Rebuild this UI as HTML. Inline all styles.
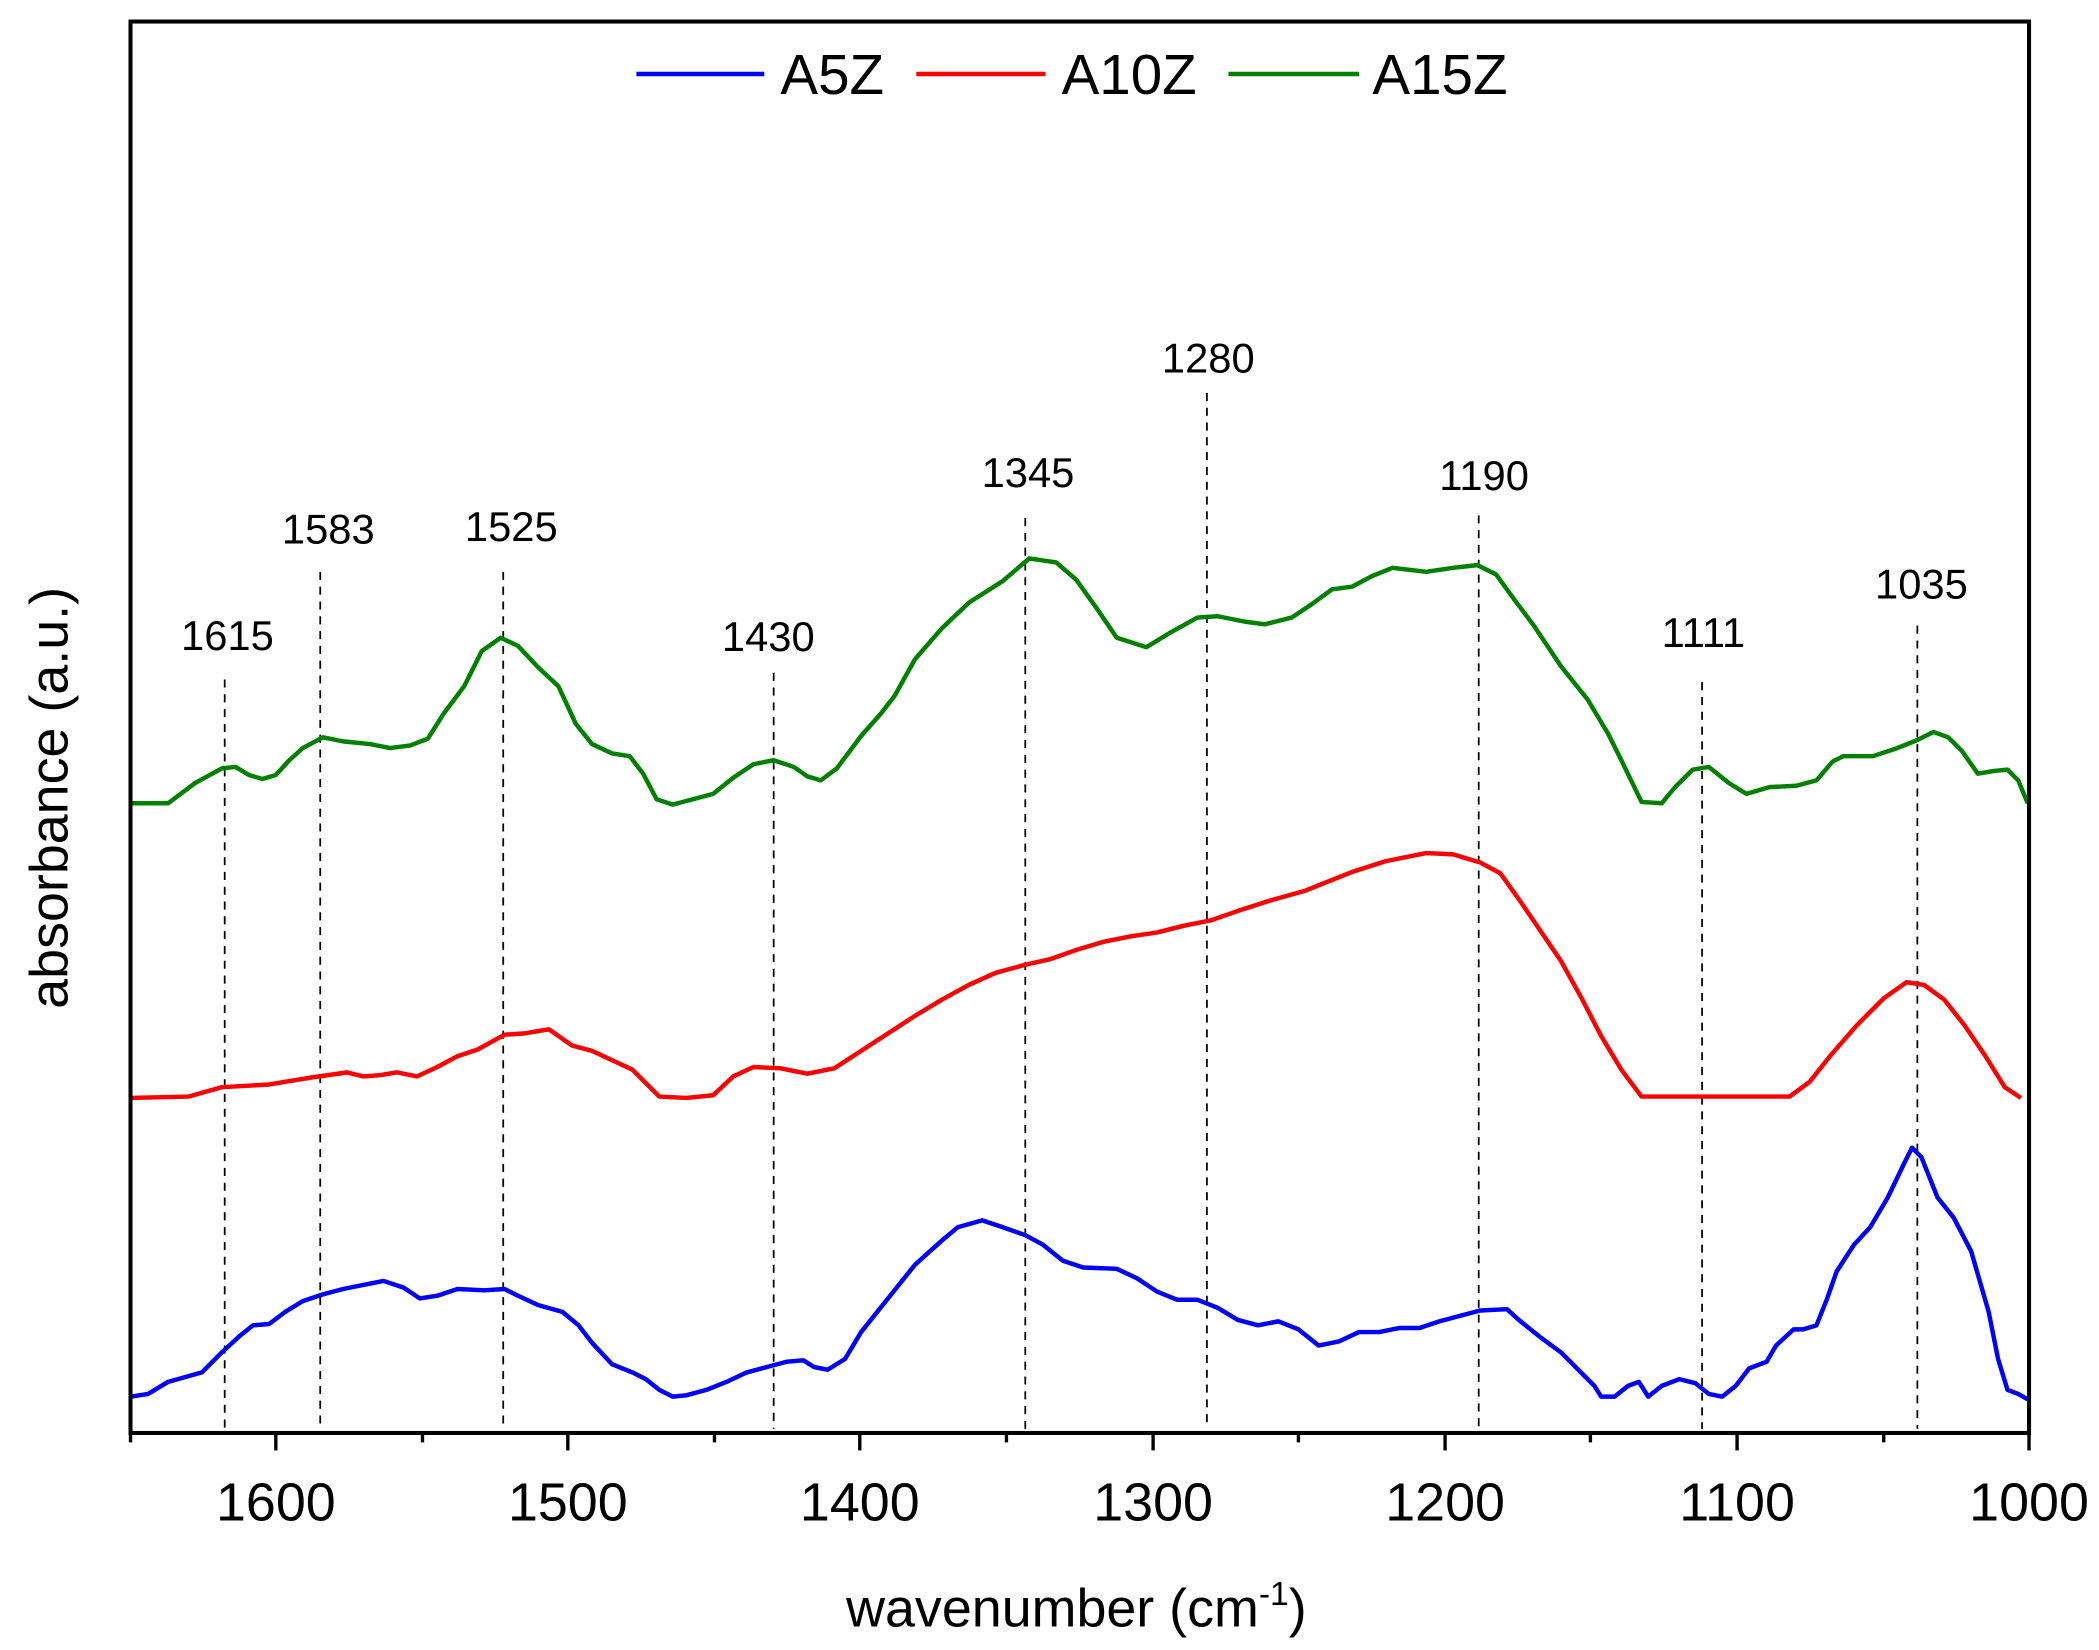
<!DOCTYPE html>
<html><head><meta charset="utf-8"><style>html,body{margin:0;padding:0;background:#fff}svg{display:block}</style></head>
<body>
<svg width="2099" height="1650" viewBox="0 0 1560 1226.3" preserveAspectRatio="none" xmlns="http://www.w3.org/2000/svg" font-family="Liberation Sans, Arial, sans-serif">
<rect width="1560" height="1227" fill="#fff"/>
<g stroke="#000" stroke-width="1.3" stroke-dasharray="6,5" fill="none">
<line x1="167" y1="505" x2="167" y2="1062"/>
<line x1="238" y1="425" x2="238" y2="1062"/>
<line x1="374" y1="425" x2="374" y2="1062"/>
<line x1="575" y1="500" x2="575" y2="1062"/>
<line x1="762" y1="385" x2="762" y2="1062"/>
<line x1="897" y1="292" x2="897" y2="1062"/>
<line x1="1099" y1="383" x2="1099" y2="1062"/>
<line x1="1265" y1="507" x2="1265" y2="1062"/>
<line x1="1425" y1="465" x2="1425" y2="1062"/>
</g>
<g font-size="31" text-anchor="middle" fill="#000">
<text x="169" y="483">1615</text>
<text x="244" y="404">1583</text>
<text x="380" y="402">1525</text>
<text x="571" y="484">1430</text>
<text x="764" y="362">1345</text>
<text x="898" y="277">1280</text>
<text x="1103" y="364">1190</text>
<text x="1266" y="481">1111</text>
<text x="1428" y="445">1035</text>
</g>
<g fill="none" stroke-width="3.3" stroke-linejoin="round">
<polyline stroke="#008000" points="97,597 125,597 145,582 165,571 175,570 185,576 195,579 205,576 215,565 225,556 240,548 255,551 275,553 290,556 305,554 318,549 330,530 345,510 358,484 372,474 385,480 400,496 415,510 428,538 440,553 455,560 468,562 478,575 488,594 500,598 515,594 530,590 545,578 560,568 575,565 590,570 600,577 610,580 622,571 640,547 655,530 665,517 680,490 700,467 720,448 745,432 765,415 785,418 800,431 815,452 830,474 852,481 870,470 890,459 905,458 925,462 940,464 960,459 975,449 990,438 1005,436 1020,428 1035,422 1060,425 1080,422 1098,420 1112,427 1125,445 1140,465 1160,495 1180,520 1195,545 1205,565 1220,596 1235,597 1245,585 1258,572 1270,570 1285,582 1298,590 1315,585 1335,584 1350,580 1362,566 1370,562 1392,562 1410,556 1425,550 1437,544 1448,548 1458,558 1470,575 1482,573 1492,572 1500,580 1507,597"/>
<polyline stroke="#ff0000" points="97,816 140,815 165,808 200,806 230,801 258,797 270,800 283,799 295,797 310,800 325,793 340,785 355,780 375,769 390,768 408,765 425,777 440,781 455,788 470,795 480,805 490,815 510,816 530,814 545,800 560,793 580,794 600,798 620,794 640,781 660,768 680,755 700,743 720,732 740,723 762,717 780,713 800,706 820,700 840,696 860,693 880,688 900,684 920,677 945,669 970,662 990,654 1005,648 1030,640 1060,634 1080,635 1100,641 1115,649 1130,670 1145,692 1160,714 1175,741 1190,770 1205,795 1220,815 1260,815 1300,815 1330,815 1345,804 1360,785 1380,762 1400,742 1417,730 1430,732 1445,743 1460,762 1475,784 1490,808 1502,816"/>
<polyline stroke="#0000ff" points="97,1038 110,1036 125,1027 150,1020 165,1005 178,993 188,985 200,984 212,975 225,967 240,962 255,958 270,955 285,952 300,957 312,965 325,963 340,958 360,959 375,958 385,963 400,970 418,975 430,985 440,998 455,1014 470,1020 480,1025 490,1033 500,1038 510,1037 525,1033 540,1027 555,1020 570,1016 585,1012 597,1011 605,1016 615,1018 628,1010 640,990 660,965 680,940 700,922 712,912 730,907 745,912 762,918 775,925 790,937 805,942 830,943 845,950 860,960 875,966 890,966 905,972 920,981 935,985 950,982 965,988 980,1000 995,997 1010,990 1025,990 1040,987 1055,987 1070,982 1085,978 1100,974 1120,973 1130,982 1145,994 1160,1005 1175,1020 1185,1030 1190,1038 1200,1038 1210,1030 1218,1027 1225,1038 1235,1030 1248,1025 1260,1028 1270,1036 1280,1038 1290,1030 1300,1017 1313,1012 1320,1000 1333,988 1340,988 1350,985 1358,965 1365,945 1378,925 1390,912 1403,890 1415,865 1421,853 1428,860 1440,890 1452,905 1465,930 1478,975 1485,1010 1492,1033 1500,1036 1507,1040"/>
</g>
<rect x="97" y="16" width="1411" height="1049" fill="none" stroke="#000" stroke-width="3"/>
<g stroke="#000" stroke-width="2.5">
<line x1="205" y1="1065" x2="205" y2="1078"/><line x1="422" y1="1065" x2="422" y2="1078"/><line x1="639" y1="1065" x2="639" y2="1078"/><line x1="857" y1="1065" x2="857" y2="1078"/><line x1="1074" y1="1065" x2="1074" y2="1078"/><line x1="1291" y1="1065" x2="1291" y2="1078"/><line x1="1508" y1="1065" x2="1508" y2="1078"/>
<line x1="97" y1="1065" x2="97" y2="1072"/><line x1="314" y1="1065" x2="314" y2="1072"/><line x1="531" y1="1065" x2="531" y2="1072"/><line x1="748" y1="1065" x2="748" y2="1072"/><line x1="965" y1="1065" x2="965" y2="1072"/><line x1="1182" y1="1065" x2="1182" y2="1072"/><line x1="1400" y1="1065" x2="1400" y2="1072"/>
</g>
<g font-size="40" text-anchor="middle" fill="#000">
<text x="205" y="1130">1600</text><text x="422" y="1130">1500</text><text x="639" y="1130">1400</text><text x="857" y="1130">1300</text><text x="1074" y="1130">1200</text><text x="1291" y="1130">1100</text><text x="1508" y="1130">1000</text>
<text x="800" y="1209">wavenumber (cm<tspan font-size="25" dy="-16">-1</tspan><tspan dy="16">)</tspan></text>
<text transform="translate(50,593) rotate(-90)">absorbance (a.u.)</text>
</g>
<g stroke-width="3.3">
<line x1="473" y1="55" x2="568" y2="55" stroke="#0000ff"/>
<line x1="681" y1="55" x2="777" y2="55" stroke="#ff0000"/>
<line x1="913" y1="55" x2="1010" y2="55" stroke="#008000"/>
</g>
<g font-size="42" fill="#000">
<text x="580" y="70">A5Z</text><text x="789" y="70">A10Z</text><text x="1020" y="70">A15Z</text>
</g>
</svg>
</body></html>
